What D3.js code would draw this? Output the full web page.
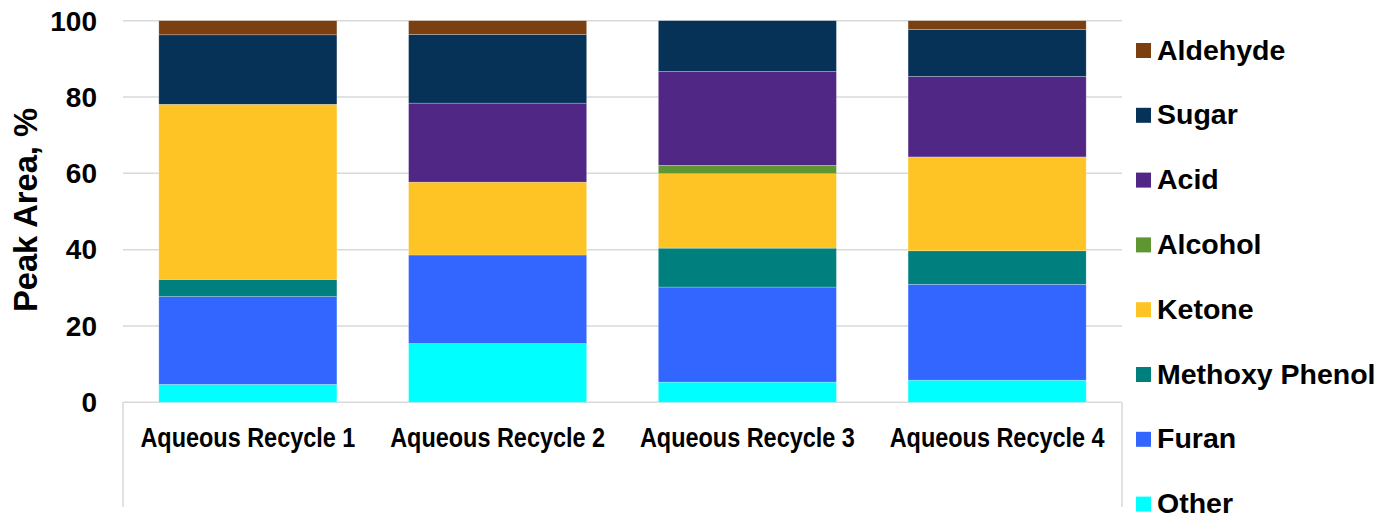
<!DOCTYPE html>
<html>
<head>
<meta charset="utf-8">
<script src="https://cdn.jsdelivr.net/npm/d3@7"></script>
<style>
  body { margin: 0; background: #fff; }
  svg { display: block; font-family: "Liberation Sans", Arial, sans-serif; font-weight: bold; }
</style>
</head>
<body>
<div id="chart"></div>
<script>
"use strict";

// Data (peak area, %)
const categories = ["Aqueous Recycle 1", "Aqueous Recycle 2", "Aqueous Recycle 3", "Aqueous Recycle 4"];
const seriesNames = ["Other", "Furan", "Methoxy Phenol", "Ketone", "Alcohol", "Acid", "Sugar", "Aldehyde"];
const other = [4.7, 15.4, 5.3, 5.8];
const furan = [23.0, 23.2, 24.9, 25.1];
const methoxyPhenol = [4.5, 0, 10.2, 8.8];
const ketone = [45.9, 19.1, 19.5, 24.6];
const alcohol = [0, 0, 2.2, 0];
const acid = [0, 20.7, 24.6, 21.1];
const sugar = [18.2, 18.0, 13.3, 12.3];
const aldehyde = [3.7, 3.6, 0, 2.3];
const yTicks = [0, 20, 40, 60, 80, 100];

const seriesValues = [other, furan, methoxyPhenol, ketone, alcohol, acid, sugar, aldehyde];
const colors = ["#00ffff", "#3366ff", "#007f7f", "#fec425", "#5e9732", "#512785", "#063257", "#7b4011"];

// Dimensions
const w = 1381;
const h = 518;
const plot = { left: 123, right: 1122, top: 20.7, bottom: 402.3 };

const svg = d3.select("#chart").append("svg").attr("width", w).attr("height", h);

// Table for the stack layout
const rows = categories.map((c, i) => {
  const row = { category: c };
  seriesNames.forEach((s, j) => (row[s] = seriesValues[j][i]));
  return row;
});

const stacked = d3.stack().keys(seriesNames)(rows);

const x = d3.scaleBand().domain(categories).range([plot.left, plot.right]).paddingInner(0.287).paddingOuter(0.1435);
const y = d3.scaleLinear().domain([0, 100]).range([plot.bottom, plot.top]);
const color = d3.scaleOrdinal().domain(seriesNames).range(colors);

// Gridlines
svg
  .append("g")
  .selectAll("line")
  .data(yTicks)
  .enter()
  .append("line")
  .attr("x1", plot.left)
  .attr("x2", plot.right)
  .attr("y1", (d) => y(d))
  .attr("y2", (d) => y(d))
  .attr("stroke", "#d9d9d9")
  .attr("stroke-width", 1.5);

// Category box lines under the axis
svg
  .append("g")
  .selectAll("line")
  .data([plot.left, plot.right])
  .enter()
  .append("line")
  .attr("x1", (d) => d)
  .attr("x2", (d) => d)
  .attr("y1", plot.bottom)
  .attr("y2", 507)
  .attr("stroke", "#d9d9d9")
  .attr("stroke-width", 1.5);

// Bars
svg
  .append("g")
  .selectAll("g")
  .data(stacked)
  .enter()
  .append("g")
  .attr("fill", (d) => color(d.key))
  .selectAll("rect")
  .data((d) => d.filter((p) => p[1] - p[0] > 0))
  .enter()
  .append("rect")
  .attr("x", (d) => x(d.data.category))
  .attr("width", x.bandwidth())
  .attr("y", (d) => y(d[1]))
  .attr("height", (d) => y(d[0]) - y(d[1]))
  .attr("stroke", "#ffffff")
  .attr("stroke-opacity", 0.4)
  .attr("stroke-width", 0.6);

// Y axis tick labels
svg
  .append("g")
  .selectAll("text")
  .data(yTicks)
  .enter()
  .append("text")
  .attr("x", 97)
  .attr("y", (d) => y(d))
  .attr("dy", "0.35em")
  .attr("text-anchor", "end")
  .attr("font-size", 28)
  .text((d) => d);

// Category labels
svg
  .append("g")
  .selectAll("text")
  .data(categories)
  .enter()
  .append("text")
  .attr("x", (d) => x(d) + x.bandwidth() / 2)
  .attr("y", 447)
  .attr("text-anchor", "middle")
  .attr("font-size", 27)
  .attr("textLength", 215)
  .attr("lengthAdjust", "spacingAndGlyphs")
  .text((d) => d);

// Y axis title
svg
  .append("text")
  .attr("transform", "translate(36.5, 210) rotate(-90)")
  .attr("text-anchor", "middle")
  .attr("font-size", 33)
  .attr("textLength", 204)
  .attr("lengthAdjust", "spacingAndGlyphs")
  .text("Peak Area, %");

// Legend, top to bottom in reverse stack order
const legendItems = seriesNames.slice().reverse();
const legend = svg
  .append("g")
  .selectAll("g")
  .data(legendItems)
  .enter()
  .append("g")
  .attr("transform", (d, i) => `translate(1136, ${43 + i * 64.8})`);

legend.append("rect").attr("width", 15).attr("height", 15).attr("fill", (d) => color(d));

legend
  .append("text")
  .attr("x", 21)
  .attr("y", 16.5)
  .attr("font-size", 28.5)
  .text((d) => d);
</script>
</body>
</html>
